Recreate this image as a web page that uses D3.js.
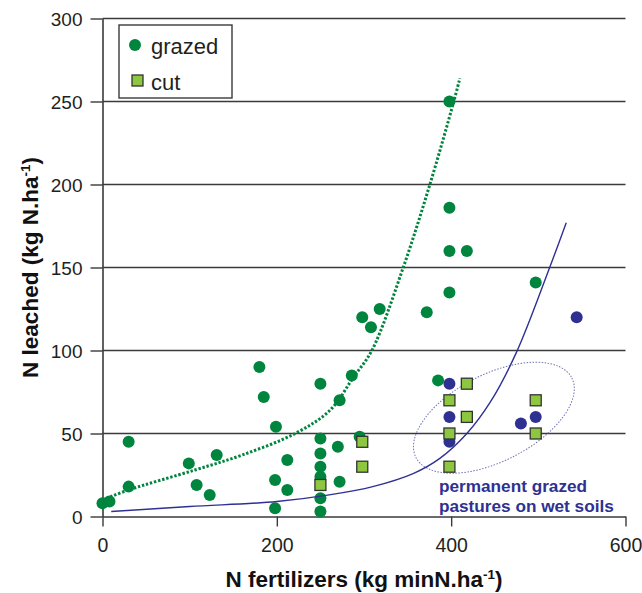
<!DOCTYPE html>
<html>
<head>
<meta charset="utf-8">
<script src="https://cdn.jsdelivr.net/npm/d3@7"></script>
<style>
  body { margin: 0; background: #fff; }
  svg { display: block; font-family: "Liberation Sans", Arial, sans-serif; }
</style>
</head>
<body>
<svg id="chart" width="642" height="593"></svg>
<script>
// values
var grazed = [[0,8],[8,9],[30,45],[30,18],[99,32],[108,19],[123,13],[131,37],[180,90],[185,72],
  [199,54],[212,34],[198,22],[212,16],[198,5],[250,80],[250,47],[250,38],[250,30],[250,24],
  [250,11],[250,3],[270,42],[272,21],[272,70],[286,85],[295,48],[298,120],[308,114],[318,125],
  [372,123],[385,82],[398,135],[398,160],[398,186],[398,250],[418,160],[497,141]];
var wetSoils = [[398,80],[398,60],[398,45],[497,60],[480,56],[544,120]];
var cut = [[250,19],[298,45],[298,30],[398,70],[398,50],[398,30],[418,80],[418,60],[497,70],[497,50]];

// trend curves, points
var grazedTrend = [[0,10],[30,16],[106,28],[160,37],[221,50],[261,64],[288,84],[309,100],
  [345,150],[375,199],[403,250],[410,264]];
var wetTrend = [[10,3],[100,6],[200,9],[260,13],[310,18],[357,26],[387,35],[418,50],
  [445,69],[475,99],[513,150],[532,177]];

var xTicks = [0, 200, 400, 600];
var yTicks = [0, 50, 100, 150, 200, 250, 300];
var legendItems = ["grazed", "cut"];
var noteLines = ["permanent grazed", "pastures on wet soils"];
var ellipseCenter = [449, 59.5];

var svg = d3.select("#chart");

var x = d3.scaleLinear().domain([0, 600]).range([102.5, 625.5]),
    y = d3.scaleLinear().domain([0, 300]).range([516.5, 18.5]);

var green = "#00853f", lime = "#8dc63f", navy = "#2e3192", ink = "#3a3a3a";

// gridlines
svg.append("g").selectAll("line")
  .data(yTicks.filter(function(d){ return d > 0; }))
  .enter().append("line")
    .attr("x1", x(0)).attr("x2", x(600))
    .attr("y1", function(d){ return y(d); }).attr("y2", function(d){ return y(d); })
    .attr("stroke", ink).attr("stroke-width", 1.6);

// axes
var xAxis = svg.append("g").attr("transform", "translate(0," + y(0) + ")")
  .call(d3.axisBottom(x).tickValues(xTicks).tickSize(10).tickPadding(12).tickSizeOuter(0));
var yAxis = svg.append("g").attr("transform", "translate(" + x(0) + ",0)")
  .call(d3.axisLeft(y).tickValues(yTicks).tickSize(12).tickPadding(8).tickSizeOuter(0));

[xAxis, yAxis].forEach(function(g){
  g.select(".domain").attr("stroke", ink).attr("stroke-width", 1.6);
  g.selectAll(".tick line").attr("stroke", ink).attr("stroke-width", 1.4);
  g.selectAll("text").attr("fill", "#231f20")
    .attr("font-family", "Liberation Sans, Arial, sans-serif");
});
xAxis.selectAll("text").attr("font-size", 19.5);
yAxis.selectAll("text").attr("font-size", 19).attr("dy", "0.35em");

// axis titles
var xt = svg.append("text")
  .attr("x", (x(0) + x(600)) / 2).attr("y", 587)
  .attr("text-anchor", "middle").attr("font-weight", "bold").attr("font-size", 22.5)
  .attr("fill", "#111");
xt.append("tspan").text("N fertilizers (kg minN.ha");
xt.append("tspan").attr("dy", -8).attr("font-size", 13.5).text("-1");
xt.append("tspan").attr("dy", 8).text(")");

var yt = svg.append("text")
  .attr("transform", "translate(38," + ((y(0) + y(300)) / 2) + ") rotate(-90)")
  .attr("text-anchor", "middle").attr("font-weight", "bold").attr("font-size", 22.5)
  .attr("fill", "#111");
yt.append("tspan").text("N leached (kg N.ha");
yt.append("tspan").attr("dy", -8).attr("font-size", 13.5).text("-1");
yt.append("tspan").attr("dy", 8).text(")");

// dotted ellipse round the wet soil group
svg.append("ellipse")
  .attr("transform", "translate(" + x(ellipseCenter[0]) + "," + y(ellipseCenter[1]) + ") rotate(-27)")
  .attr("rx", 87.5).attr("ry", 43.5)
  .attr("fill", "none").attr("stroke", "#6f73b4").attr("stroke-width", 1)
  .attr("stroke-dasharray", "1.5,1.5");

// points
svg.append("g").selectAll("circle").data(grazed).enter().append("circle")
  .attr("cx", function(d){ return x(d[0]); }).attr("cy", function(d){ return y(d[1]); })
  .attr("r", 6).attr("fill", green);

svg.append("g").selectAll("circle").data(wetSoils).enter().append("circle")
  .attr("cx", function(d){ return x(d[0]); }).attr("cy", function(d){ return y(d[1]); })
  .attr("r", 6).attr("fill", navy);

svg.append("g").selectAll("rect").data(cut).enter().append("rect")
  .attr("x", function(d){ return x(d[0]) - 5.5; }).attr("y", function(d){ return y(d[1]) - 5.5; })
  .attr("width", 11).attr("height", 11)
  .attr("fill", lime).attr("stroke", "#333").attr("stroke-width", 1.3);

// trend lines
var line = d3.line()
  .x(function(d){ return x(d[0]); }).y(function(d){ return y(d[1]); })
  .curve(d3.curveCatmullRom.alpha(0.5));

svg.append("path").datum(grazedTrend).attr("d", line)
  .attr("fill", "none").attr("stroke", green).attr("stroke-width", 3)
  .attr("stroke-dasharray", "2.4,1.8");

svg.append("path").datum(wetTrend).attr("d", line)
  .attr("fill", "none").attr("stroke", navy).attr("stroke-width", 1.4);

// note
svg.append("g").selectAll("text").data(noteLines).enter().append("text")
  .attr("x", 439).attr("y", function(d, i){ return 492 + i * 19.5; })
  .attr("font-weight", "bold").attr("font-size", 17.2).attr("fill", navy)
  .text(function(d){ return d; });

// legend
var legend = svg.append("g");
legend.append("rect").attr("x", 119).attr("y", 25).attr("width", 113).attr("height", 73)
  .attr("fill", "#fff").attr("stroke", ink).attr("stroke-width", 1.4);
legend.append("circle").attr("cx", 135).attr("cy", 45).attr("r", 6).attr("fill", green);
legend.append("rect").attr("x", 132).attr("y", 75).attr("width", 11).attr("height", 11)
  .attr("fill", lime).attr("stroke", "#333").attr("stroke-width", 1.3);
legend.selectAll("text").data(legendItems).enter().append("text")
  .attr("x", 151).attr("y", function(d, i){ return 54 + i * 35.5; })
  .attr("font-size", 22).attr("fill", "#231f20")
  .text(function(d){ return d; });
</script>
</body>
</html>
